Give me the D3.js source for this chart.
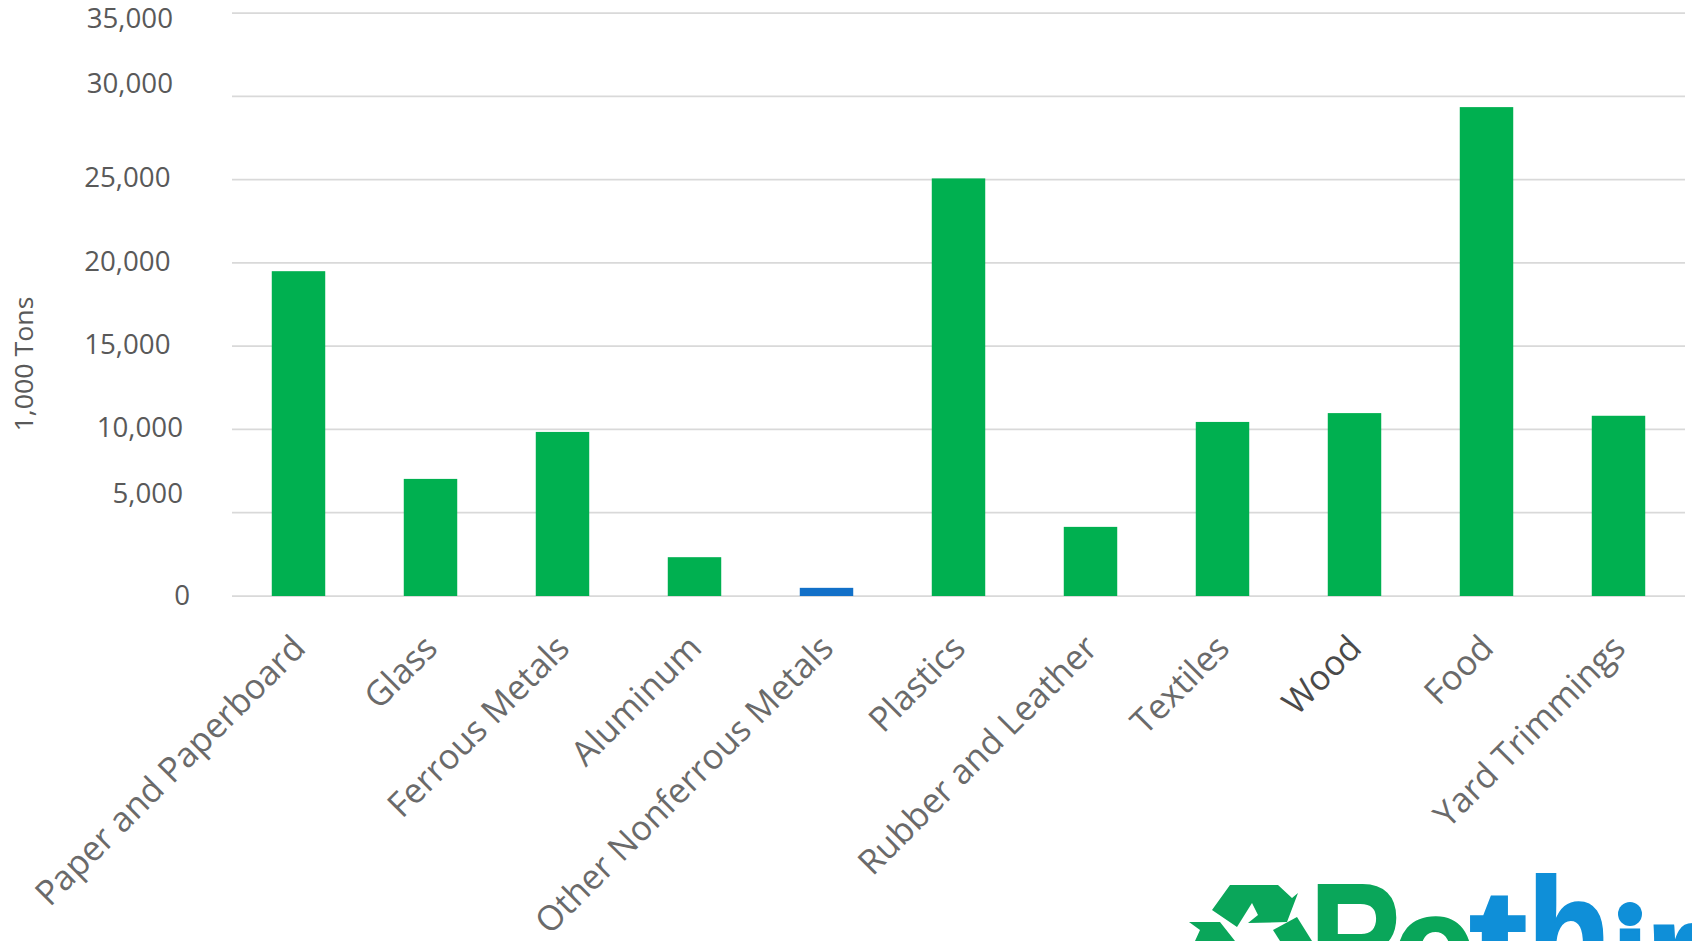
<!DOCTYPE html>
<html><head><meta charset="utf-8">
<script src="https://cdnjs.cloudflare.com/ajax/libs/d3/7.8.5/d3.min.js"></script>
<style>html,body{margin:0;background:#fff;overflow:hidden}svg{display:block}text{font-family:"Open Sans",sans-serif;fill:#595959}</style>
</head><body><svg id="c" width="1692" height="941"></svg>
<script>
const categories=["Paper and Paperboard","Glass","Ferrous Metals","Aluminum","Other Nonferrous Metals","Plastics","Rubber and Leather","Textiles","Wood","Food","Yard Trimmings"];
const values=[19500,7030,9850,2330,490,25070,4150,10450,10980,29350,10820];
const highlighted=["Other Nonferrous Metals"];
const yTicks=[0,5000,10000,15000,20000,25000,30000,35000];
const tickNudgeY=[-1,-20,-2,-2,-2,-3,-13,5];
const tickNudgeX=[17,10,10,-2.5,-2.5,-2.5,0,0];
const svg=d3.select("#c");
const y=d3.scaleLinear().domain([0,35000]).range([596,13]);
const x=d3.scaleBand().domain(categories).range([232.5,1684.5]).paddingInner(0.595).paddingOuter(0.2975);
const fmt=d3.format(",");
svg.append("g").attr("stroke","#d9d9d9").attr("stroke-width",1.75).selectAll("line").data(yTicks).join("line")
  .attr("x1",232).attr("x2",1685).attr("y1",d=>y(d)).attr("y2",d=>y(d));
svg.append("g").selectAll("rect").data(categories).join("rect")
  .attr("x",d=>x(d)).attr("width",x.bandwidth())
  .attr("y",(d,i)=>y(values[i])).attr("height",(d,i)=>y(0)-y(values[i]))
  .attr("fill",d=>highlighted.includes(d)?"#1270c8":"#00b050");
svg.append("g").selectAll("text").data(yTicks).join("text")
  .attr("x",(d,i)=>173+tickNudgeX[i]).attr("y",(d,i)=>y(d)+tickNudgeY[i]).attr("dy","0.36em")
  .attr("text-anchor","end").attr("font-size",27.7).text(fmt);
svg.append("text").attr("transform","translate(23.5,364) rotate(-90)").attr("text-anchor","middle").attr("dy","0.36em").attr("font-size",25).attr("textLength",135).attr("lengthAdjust","spacingAndGlyphs").text("1,000 Tons");
svg.append("g").selectAll("text").data(categories).join("text")
  .attr("transform",d=>`translate(${x(d)+x.bandwidth()/2+9},650) rotate(-45)`)
  .attr("text-anchor","end").attr("font-size",34.5).attr("font-weight",400)
  .style("fill",d=>d==="Wood"?"#4a4a4a":"#6a6a6a").text(d=>d);
// logo, cropped by the bottom edge of the page and the top of its own picture
const green="#0aa65a",blue="#0f8fd8";
svg.append("defs").append("clipPath").attr("id","logoClip").append("rect").attr("x",1180).attr("y",873).attr("width",512).attr("height",68);
const logo=svg.append("g").attr("clip-path","url(#logoClip)");
logo.append("g").attr("fill",green).selectAll("path").data([
 "M1230 885 L1278 885 L1292 898 L1298 893 L1287 922 L1248 923 L1258 915 L1252 903 L1237 927 L1212 910 Z",
 "M1189 922 L1220 922 L1235 941 L1195 941 L1200 930 Z",
 "M1273 930 L1297 917 L1312 941 L1280 941 Z"]).join("path").attr("d",d=>d);
const letters=[
 {c:"R",f:green,x:1310,b:995,s:160,k:0.8},
 {c:"e",f:green,x:1392,b:1003,s:160,k:0.95},
 {c:"t",f:blue,x:1469,b:1001,s:160,k:1.1},
 {c:"h",f:blue,x:1527,b:995,s:172,k:0.8},
 {c:"ı",f:blue,x:1611,b:1014,s:160,k:0.85},
 {c:"r",f:blue,x:1645,b:1010,s:160,k:0.9}];
logo.selectAll("text").data(letters).join("text")
  .attr("transform",d=>`translate(${d.x},${d.b}) scale(${d.k},1)`)
  .attr("font-size",d=>d.s).attr("font-weight",700).style("font-family","Liberation Sans")
  .style("fill",d=>d.f).style("stroke",d=>d.f).style("stroke-width",2).text(d=>d.c);
logo.append("circle").attr("cx",1630).attr("cy",914).attr("r",12).attr("fill",blue);
</script></body></html>
